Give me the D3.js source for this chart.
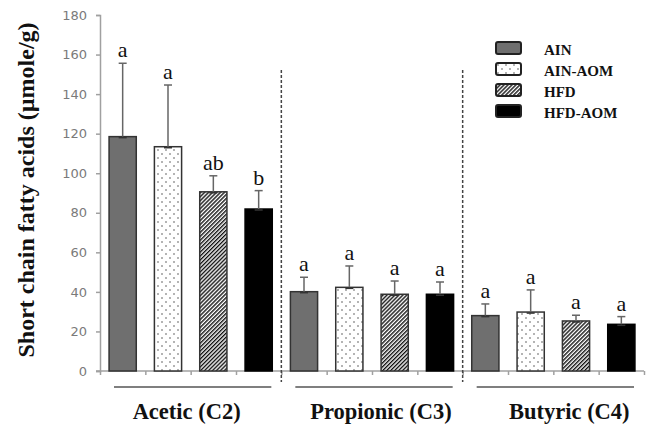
<!DOCTYPE html>
<html>
<head>
<meta charset="utf-8">
<script src="https://cdn.jsdelivr.net/npm/d3@7"></script>
<style>
  body { margin: 0; background: #fff; }
  svg { display: block; }
</style>
</head>
<body>
<div id="chart"></div>
<script>
// groups on the x axis
const groups = ['Acetic (C2)', 'Propionic (C3)', 'Butyric (C4)'];
const diets = ['AIN', 'AIN-AOM', 'HFD', 'HFD-AOM'];

// means per diet (one per group), umole/g
const ainMean    = [118.5, 40.1, 28.0];
const ainAomMean = [113.4, 42.3, 29.8];
const hfdMean    = [90.6, 38.8, 25.3];
const hfdAomMean = [81.9, 38.8, 23.6];

// upper error bar lengths
const ainErr    = [37.1, 7.3, 5.9];
const ainAomErr = [31.2, 10.8, 11.2];
const hfdErr    = [8.1, 6.7, 2.9];
const hfdAomErr = [9.3, 6.2, 3.9];

// significance letters
const ainSig    = ['a', 'a', 'a'];
const ainAomSig = ['a', 'a', 'a'];
const hfdSig    = ['ab', 'a', 'a'];
const hfdAomSig = ['b', 'a', 'a'];

const yTicks = [0, 20, 40, 60, 80, 100, 120, 140, 160, 180];

const means = [ainMean, ainAomMean, hfdMean, hfdAomMean];
const errs = [ainErr, ainAomErr, hfdErr, hfdAomErr];
const sigs = [ainSig, ainAomSig, hfdSig, hfdAomSig];

const rows = [];
groups.forEach(function(g, gi) {
  diets.forEach(function(d, di) {
    rows.push({ group: g, diet: d, value: means[di][gi], err: errs[di][gi], sig: sigs[di][gi] });
  });
});

const W = 657, H = 427;
const plotL = 100, plotR = 644, plotT = 15, plotB = 371;
const serif = '"Liberation Serif", "Times New Roman", serif';

const svg = d3.select('#chart').append('svg').attr('width', W).attr('height', H);
const defs = svg.append('defs');

// fills
const dots = defs.append('pattern').attr('id', 'dots')
  .attr('patternUnits', 'userSpaceOnUse').attr('width', 8).attr('height', 8);
dots.append('rect').attr('width', 8).attr('height', 8).attr('fill', '#fff');
dots.append('circle').attr('cx', 2).attr('cy', 2).attr('r', 0.8).attr('fill', '#555');
dots.append('circle').attr('cx', 6).attr('cy', 6).attr('r', 0.8).attr('fill', '#555');

const hatch = defs.append('pattern').attr('id', 'hatch')
  .attr('patternUnits', 'userSpaceOnUse').attr('width', 2.8).attr('height', 2.8)
  .attr('patternTransform', 'rotate(45)');
hatch.append('rect').attr('width', 2.8).attr('height', 2.8).attr('fill', '#fff');
hatch.append('rect').attr('width', 1.4).attr('height', 2.8).attr('fill', '#111');

const fills = { 'AIN': '#6f6f6f', 'AIN-AOM': 'url(#dots)', 'HFD': 'url(#hatch)', 'HFD-AOM': '#000' };
const strokes = { 'AIN': '#333', 'AIN-AOM': '#333', 'HFD': '#333', 'HFD-AOM': '#000' };

// scales
const x0 = d3.scaleBand().domain(groups).range([plotL, plotR]).padding(0);
const x1 = d3.scaleBand().domain(diets).range([0, x0.bandwidth()])
  .paddingInner(0.4).paddingOuter(0.2);
const y = d3.scaleLinear().domain([0, 180]).range([plotB, plotT]);
const xTickScale = d3.scaleLinear().domain([0, 12]).range([plotL, plotR]);

// y axis
const yAxis = svg.append('g').attr('transform', 'translate(' + plotL + ',0)')
  .call(d3.axisLeft(y).tickValues(yTicks).tickSize(4).tickPadding(9));
yAxis.select('.domain').attr('stroke', '#a0a0a0').attr('stroke-width', 1.5);
yAxis.selectAll('.tick line').attr('stroke', '#a0a0a0').attr('stroke-width', 1.5);
yAxis.selectAll('.tick text')
  .attr('fill', '#7a7a7a')
  .style('font-family', '"DejaVu Sans", Verdana, sans-serif')
  .style('font-size', '13px');

// x axis with a tick at every bar slot
const xAxis = svg.append('g').attr('transform', 'translate(0,' + plotB + ')')
  .call(d3.axisBottom(xTickScale).tickValues(d3.range(0, 13)).tickSize(4).tickFormat(''));
xAxis.select('.domain').attr('stroke', '#a0a0a0').attr('stroke-width', 1.5)
  .attr('d', 'M' + (plotL - 4) + ',0H' + plotR);
xAxis.selectAll('.tick line').attr('stroke', '#a0a0a0').attr('stroke-width', 1.5);

// dashed group separators
svg.selectAll('.sep').data(groups.slice(1)).enter().append('line')
  .attr('class', 'sep')
  .attr('x1', function(d) { return x0(d); })
  .attr('x2', function(d) { return x0(d); })
  .attr('y1', 70).attr('y2', 382)
  .attr('stroke', '#444').attr('stroke-width', 1.5)
  .attr('stroke-dasharray', '3,2');

// bars
const bars = svg.append('g');
bars.selectAll('rect').data(rows).enter().append('rect')
  .attr('x', function(d) { return x0(d.group) + x1(d.diet); })
  .attr('y', function(d) { return y(d.value); })
  .attr('width', x1.bandwidth())
  .attr('height', function(d) { return y(0) - y(d.value); })
  .attr('fill', function(d) { return fills[d.diet]; })
  .attr('stroke', function(d) { return strokes[d.diet]; })
  .attr('stroke-width', 1.5);

// error bars (upper only)
const eb = svg.append('g').attr('stroke', '#666').attr('stroke-width', 1.5);
rows.forEach(function(d) {
  const cx = x0(d.group) + x1(d.diet) + x1.bandwidth() / 2;
  eb.append('line').attr('x1', cx).attr('x2', cx)
    .attr('y1', y(d.value)).attr('y2', y(d.value + d.err));
  eb.append('line').attr('x1', cx - 4).attr('x2', cx + 4)
    .attr('y1', y(d.value + d.err)).attr('y2', y(d.value + d.err));
  eb.append('line').attr('x1', cx - 4).attr('x2', cx + 4)
    .attr('y1', y(d.value) + 1).attr('y2', y(d.value) + 1).attr('stroke', '#333');
});

// significance letters
svg.append('g').selectAll('text').data(rows).enter().append('text')
  .attr('x', function(d) { return x0(d.group) + x1(d.diet) + x1.bandwidth() / 2; })
  .attr('y', function(d) { return y(d.value + d.err) - 6; })
  .attr('text-anchor', 'middle')
  .style('font-family', serif)
  .style('font-size', '22px')
  .attr('fill', '#111')
  .text(function(d) { return d.sig; });

// group underline and labels
const labelShift = [-4, 9, 16];
const gl = svg.append('g');
gl.selectAll('line').data(groups).enter().append('line')
  .attr('x1', function(d) { return x0(d) + 14; })
  .attr('x2', function(d) { return x0(d) + x0.bandwidth() - 10; })
  .attr('y1', 387).attr('y2', 387)
  .attr('stroke', '#555').attr('stroke-width', 1.6);
gl.selectAll('text').data(groups).enter().append('text')
  .attr('x', function(d, i) { return x0(d) + x0.bandwidth() / 2 + labelShift[i]; })
  .attr('y', 419)
  .attr('text-anchor', 'middle')
  .style('font-family', serif)
  .style('font-weight', 'bold')
  .style('font-size', '22.5px')
  .attr('fill', '#111')
  .text(function(d) { return d; });

// y title
svg.append('text')
  .attr('transform', 'translate(34,190) rotate(-90)')
  .attr('text-anchor', 'middle')
  .style('font-family', serif)
  .style('font-weight', 'bold')
  .style('font-size', '24px')
  .attr('fill', '#111')
  .text('Short chain fatty acids (\u00b5mole/g)');

// legend
const legend = svg.append('g').attr('transform', 'translate(496,42)');
const item = legend.selectAll('g').data(diets).enter().append('g')
  .attr('transform', function(d, i) { return 'translate(0,' + (i * 21) + ')'; });
item.append('rect')
  .attr('width', 25).attr('height', 12).attr('rx', 2)
  .attr('fill', function(d) { return fills[d]; })
  .attr('stroke', '#222').attr('stroke-width', 2);
item.append('text')
  .attr('x', 48).attr('y', 13)
  .style('font-family', serif)
  .style('font-weight', 'bold')
  .style('font-size', '15px')
  .attr('fill', '#111')
  .text(function(d) { return d; });
</script>
</body>
</html>
